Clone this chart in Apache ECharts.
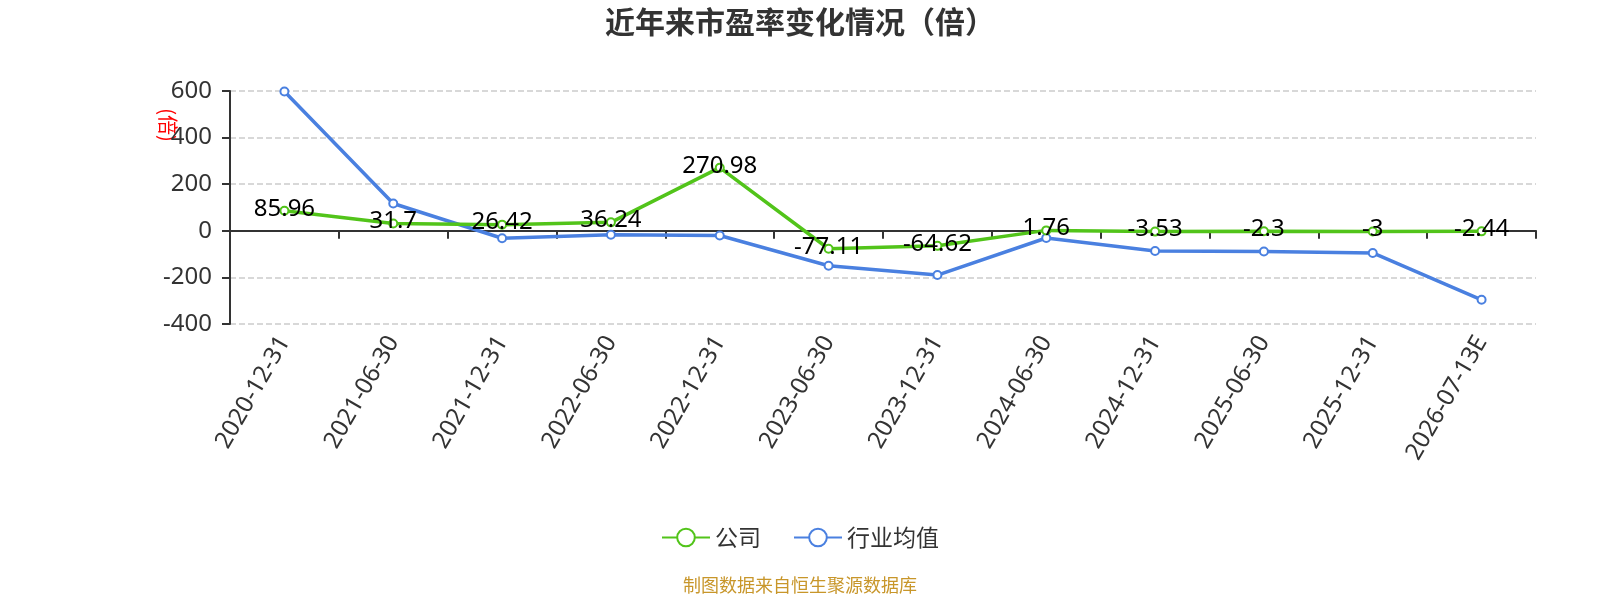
<!DOCTYPE html>
<html>
<head>
<meta charset="utf-8">
<title>近年来市盈率变化情况（倍）</title>
<script src="https://cdn.jsdelivr.net/npm/echarts@6/dist/echarts.min.js"></script>
<style>
    html, body { margin: 0; padding: 0; background: #fff; }
    #main { width: 1600px; height: 600px; }
</style>
</head>
<body>
<div id="main"></div>
<script>
    var categories = ['2020-12-31', '2021-06-30', '2021-12-31', '2022-06-30', '2022-12-31', '2023-06-30',
        '2023-12-31', '2024-06-30', '2024-12-31', '2025-06-30', '2025-12-31', '2026-07-13E'];
    var companyPE = [85.96, 31.7, 26.42, 36.24, 270.98, -77.11, -64.62, 1.76, -3.53, -2.3, -3, -2.44];
    var industryPE = [598, 117, -32, -17, -20, -150, -190, -31, -87, -89, -95, -296];
    var yTicks = [-400, -200, 0, 200, 400, 600];

    var fontFamily = '"Noto Sans CJK SC", "Noto Sans", sans-serif';
    var numFont = '"Noto Sans", "Noto Sans CJK SC", sans-serif';
    var myChart = echarts.init(document.getElementById('main'));

    var option = {
        textStyle: { fontFamily: fontFamily },
        title: {
            text: '近年来市盈率变化情况（倍）',
            left: 'center',
            top: 2,
            textStyle: { fontSize: 30, fontWeight: 'bold', color: '#333', fontFamily: fontFamily }
        },
        legend: {
            bottom: 46,
            left: 'center',
            itemWidth: 48,
            itemHeight: 22,
            itemGap: 32,
            textStyle: { fontSize: 23, color: '#333', fontFamily: fontFamily },
            data: ['公司', '行业均值']
        },
        grid: { left: 230, right: 64, top: 91, bottom: 276 },
        xAxis: [{
            type: 'category',
            data: categories,
            axisLine: { show: false, onZero: false },
            axisTick: { show: false },
            axisLabel: { rotate: 60, fontSize: 24, color: '#333', margin: 14, interval: 0, fontFamily: numFont }
        }, {
            type: 'category',
            data: categories,
            position: 'bottom',
            axisLine: { onZero: true, lineStyle: { color: '#333', width: 2 } },
            axisTick: { show: true, length: 8, lineStyle: { color: '#333', width: 2 } },
            axisLabel: { show: false }
        }],
        yAxis: {
            type: 'value',
            min: yTicks[0],
            max: yTicks[yTicks.length - 1],
            interval: 200,
            axisLine: { show: true, lineStyle: { color: '#333', width: 2 } },
            axisTick: { show: true, length: 8, lineStyle: { color: '#333', width: 2 } },
            axisLabel: { fontSize: 24, color: '#333', margin: 18, fontFamily: numFont },
            splitLine: { lineStyle: { color: '#ccc', type: 'dashed', width: 1.5 } }
        },
        graphic: [{
            type: 'text',
            x: 168,
            y: 125,
            rotation: -Math.PI / 2,
            style: { text: '(倍)', fill: '#ff0000', fontSize: 20, fontFamily: fontFamily, align: 'center', verticalAlign: 'middle' }
        }, {
            type: 'text',
            left: 'center',
            bottom: 6,
            style: { text: '制图数据来自恒生聚源数据库', fill: '#c8962a', fontSize: 18, fontFamily: fontFamily }
        }],
        series: [{
            name: '公司',
            type: 'line',
            xAxisIndex: 0,
            data: companyPE,
            color: '#52c41a',
            symbol: 'emptyCircle',
            symbolSize: 8,
            lineStyle: { width: 3.5 },
            z: 3,
            label: {
                show: true,
                position: 'top',
                offset: [0, 20],
                fontSize: 24,
                fontFamily: numFont,
                color: '#000'
            }
        }, {
            name: '行业均值',
            type: 'line',
            xAxisIndex: 0,
            data: industryPE,
            color: '#4a80e0',
            symbol: 'emptyCircle',
            symbolSize: 8,
            lineStyle: { width: 3.5 },
            z: 2
        }]
    };
    myChart.setOption(option);
</script>
</body>
</html>
